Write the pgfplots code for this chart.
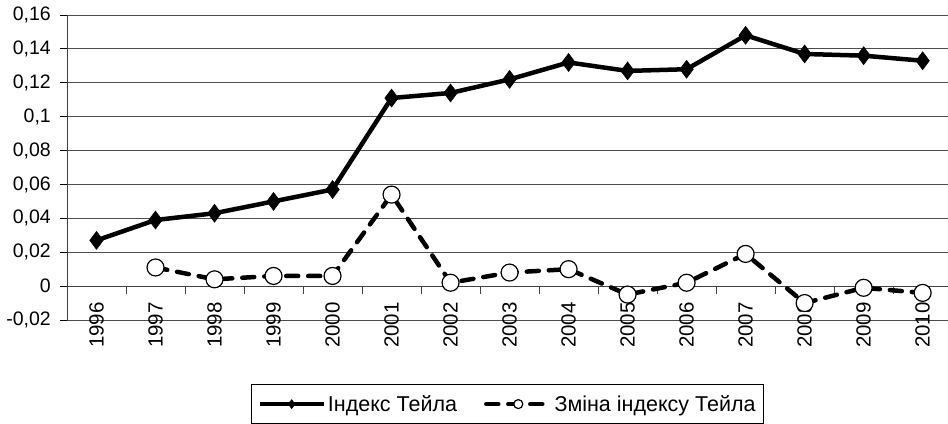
\documentclass[border=0pt]{standalone}
\usepackage{pgfplots}
\pgfplotsset{compat=1.18}
\usepackage{fontspec}
\usetikzlibrary{calc}
\setmainfont{Liberation Sans}
\begin{document}
\begin{tikzpicture}
\begin{axis}[
  scale only axis, width=881bp, height=305bp,
  xmin=-0.5, xmax=14.43, ymin=-0.02, ymax=0.16,
  axis x line=middle, axis y line=left,
  axis line style={-, black!75, line width=0.9bp},
  ytick={-0.02,0,0.02,0.04,0.06,0.08,0.1,0.12,0.14,0.16},
  yticklabels={{-0,02},{0},{0,02},{0,04},{0,06},{0,08},{0,1},{0,12},{0,14},{0,16}},
  ymajorgrids, grid style={black!70, line width=0.8bp},
  xtick={0,1,2,3,4,5,6,7,8,9,10,11,12,13,14},
  xticklabels={1996,1997,1998,1999,2000,2001,2002,2003,2004,2005,2006,2007,2008,2009,2010},
  tick align=outside,
  major tick length=7bp, minor tick length=8bp,
  xtick style={draw=none},
  minor xtick={0.5,1.5,2.5,3.5,4.5,5.5,6.5,7.5,8.5,9.5,10.5,11.5,12.5,13.5},
  minor x tick style={draw=black!75, line width=0.9bp},
  ytick style={black, line width=0.9bp},
  xticklabel style={yshift=-9bp, rotate=90, anchor=east, inner sep=0pt, font=\fontsize{20.5bp}{24bp}\selectfont},
  yticklabel style={xshift=-9bp, anchor=east, inner sep=0pt, font=\fontsize{19.5bp}{23bp}\selectfont},
  legend columns=2,
  legend style={at={(0.5,-0.2098)}, anchor=north, draw=black, line width=0.8bp,
    font=\fontsize{21.5bp}{25bp}\selectfont, inner xsep=6bp, inner ysep=9bp,
    /tikz/every even column/.append style={column sep=25bp}},
  legend image code/.code={\draw[mark repeat=2,mark phase=2,mark size=4.5bp] plot coordinates {(0bp,0bp)(32bp,0bp)(64bp,0bp)};},
]
\addplot[black, line width=4.5bp, mark=diamond*, mark size=9bp, mark options={solid, fill=black, line width=0.5bp}]
  coordinates {(0,0.027)(1,0.039)(2,0.043)(3,0.050)(4,0.057)(5,0.111)(6,0.114)(7,0.122)(8,0.132)(9,0.127)(10,0.128)(11,0.148)(12,0.137)(13,0.136)(14,0.133)};
\addlegendentry{Індекс Тейла}
\addplot[black, line width=4.5bp, line cap=round, dash pattern=on 12bp off 10bp, mark=*, mark size=8.5bp, mark options={solid, fill=white, draw=black, line width=1.2bp}]
  coordinates {(1,0.011)(2,0.004)(3,0.006)(4,0.006)(5,0.054)(6,0.002)(7,0.008)(8,0.010)(9,-0.005)(10,0.002)(11,0.019)(12,-0.010)(13,-0.001)(14,-0.004)};
\addlegendentry{Зміна індексу Тейла}
\end{axis}
\pgfresetboundingbox
\path[use as bounding box] ($(current axis.south west)+(-67bp,-104bp)$) rectangle ($(current axis.north east)+(0bp,15bp)$);
\end{tikzpicture}
\end{document}
